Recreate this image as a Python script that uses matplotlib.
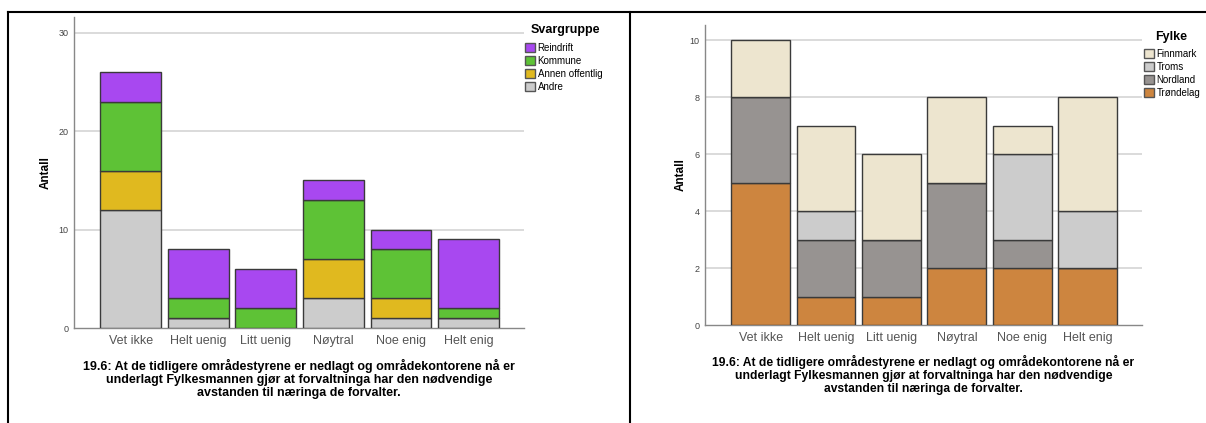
import numpy as np
import matplotlib
matplotlib.use("Agg")
import matplotlib.pyplot as plt
from matplotlib.lines import Line2D

plt.rcParams['font.family'] = ['Liberation Sans', 'DejaVu Sans']

kategorier = ["Vet ikke", "Helt uenig", "Litt uenig", "Nøytral", "Noe enig", "Helt enig"]

# venstre: Svargruppe (nederst -> øverst)
andre = [12, 1, 0, 3, 1, 1]
annen_offentlig = [4, 0, 0, 4, 2, 0]
kommune = [7, 2, 2, 6, 5, 1]
reindrift = [3, 5, 4, 2, 2, 7]

# hoyre: Fylke (nederst -> øverst)
trondelag = [5, 1, 1, 2, 2, 2]
nordland = [3, 2, 2, 3, 1, 0]
troms = [0, 1, 0, 0, 3, 2]
finnmark = [2, 3, 3, 3, 1, 4]

yticks_venstre = [0, 10, 20, 30]
yticks_hoyre = [0, 2, 4, 6, 8, 10]

tekst = ("19.6: At de tidligere områdestyrene er nedlagt og områdekontorene nå er\n"
         "underlagt Fylkesmannen gjør at forvaltninga har den nødvendige\n"
         "avstanden til næringa de forvalter.")

W, H = 1206, 423
fig = plt.figure(figsize=(W / 100, H / 100), dpi=100)


def panel(rect, serier, navn, farger, yticks, ylim, xlim, tittel, tittel_pos,
          leg_pos, cap_y, cap_size, ylabpad):
    ax = fig.add_axes(rect)
    x = np.arange(len(kategorier))
    bunn = np.zeros(len(kategorier))
    handles = []
    for verdier, farge in zip(serier, farger):
        b = ax.bar(x, verdier, 0.9, bottom=bunn, color=farge, edgecolor="#3a3a3a",
                   linewidth=1.0, zorder=3)
        handles.append(b)
        bunn += np.array(verdier)
    ax.set_xlim(*xlim)
    ax.set_ylim(0, ylim)
    ax.set_yticks(yticks)
    ax.set_xticks(x)
    ax.set_xticklabels(kategorier, fontsize=9, color="#555555")
    ax.tick_params(axis="x", length=0, pad=5)
    ax.tick_params(axis="y", length=0, pad=4, labelsize=6.5, labelcolor="#444444")
    for s in ["top", "right"]:
        ax.spines[s].set_visible(False)
    for s in ["left", "bottom"]:
        ax.spines[s].set_color("#888888")
        ax.spines[s].set_linewidth(1.0)
    for t in yticks[1:]:
        ax.axhline(t, color="#d4d4d4", linewidth=1.2, zorder=1)
    ax.set_ylabel("Antall", fontsize=8.5, fontweight="bold", labelpad=ylabpad)
    fig.text(tittel_pos[0] / W, 1 - tittel_pos[1] / H, tittel, fontsize=9,
             fontweight="bold", ha="left", va="center")
    leg = fig.legend(handles[::-1], navn[::-1], loc="upper left",
                     bbox_to_anchor=(leg_pos[0] / W, 1 - leg_pos[1] / H),
                     frameon=False, fontsize=7, handlelength=1.0, handleheight=1.0,
                     handletextpad=0.3, labelspacing=0.3, borderpad=0, borderaxespad=0)
    for p in leg.get_patches():
        p.set_edgecolor("#555555")
    cx = (rect[0] + rect[2] / 2)
    fig.text(cx, 1 - cap_y / H, tekst, ha="center", va="top", fontsize=cap_size,
             fontweight="bold", linespacing=1.1)
    return ax


panel([74 / W, 1 - 328 / H, 450 / W, 311 / H],
      [andre, annen_offentlig, kommune, reindrift],
      ["Andre", "Annen offentlig", "Kommune", "Reindrift"],
      ["#cccccc", "#e0b91f", "#5ec236", "#a848f0"],
      yticks_venstre, 31.6, (-0.84, 5.82), "Svargruppe", (531, 30),
      (525, 43), 359, 9, 5)

panel([705 / W, 1 - 325 / H, 437 / W, 300 / H],
      [trondelag, nordland, troms, finnmark],
      ["Trøndelag", "Nordland", "Troms", "Finnmark"],
      ["#cd853f", "#979391", "#cccccc", "#ede5cf"],
      yticks_hoyre, 10.53, (-0.85, 5.83), "Fylke", (1155, 37),
      (1144, 49), 355, 8.7, 2)

# ramme
ytop = 1 - 12 / H
fig.add_artist(Line2D([8 / W, 1], [ytop, ytop], color="black", linewidth=1.5))
fig.add_artist(Line2D([8 / W, 8 / W], [0, ytop], color="black", linewidth=1.5))
fig.add_artist(Line2D([630 / W, 630 / W], [0, ytop], color="black", linewidth=1.5))

fig.savefig("out.png", dpi=100)
